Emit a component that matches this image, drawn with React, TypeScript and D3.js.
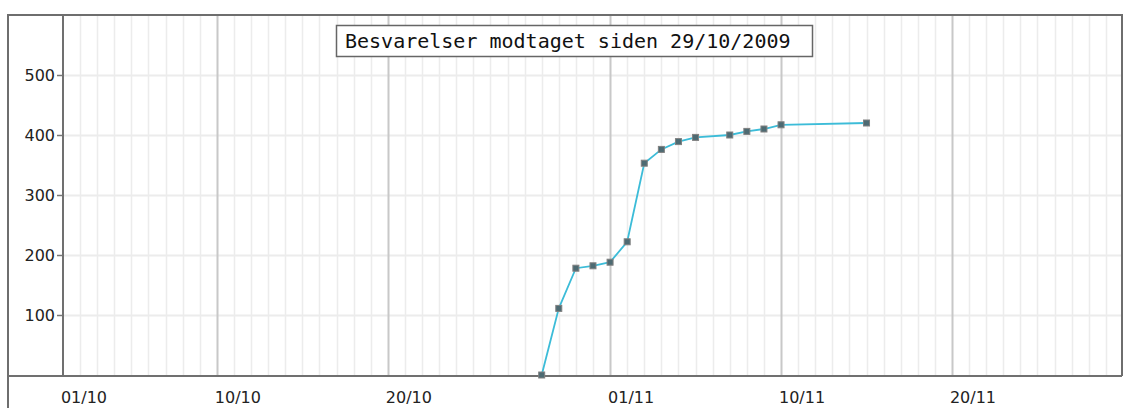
import React, { useEffect, useRef } from 'react';
import * as d3 from 'd3';

// x is measured in chart day-units counted from 01/10 (the axis start)
const DAYS = [28, 29, 30, 31, 32, 33, 34, 35, 36, 37, 39, 40, 41, 42, 47];
const RESPONSES = [0, 111, 178, 182, 188, 222, 353, 376, 389, 396, 400, 406, 410, 417, 420];

const X_TICKS = [0, 9, 19, 32, 42, 52];
const X_TICK_LABELS = ['01/10', '10/10', '20/10', '01/11', '10/11', '20/11'];
const Y_TICKS = [100, 200, 300, 400, 500];
const LEGEND_TEXT = 'Besvarelser modtaget siden 29/10/2009';

const WIDTH = 1125;
const HEIGHT = 408;

const App: React.FC = () => {
  const svgRef = useRef<SVGSVGElement>(null);

  useEffect(() => {
    if (!svgRef.current) return;
    const svg = d3.select(svgRef.current);
    svg.selectAll('*').remove();

    const frame = { left: 8, top: 15, right: 1122 };
    const plot = { left: 63, right: 1122, top: 15, bottom: 376 };

    const xScale = d3.scaleLinear().domain([0, 52]).range([plot.left, 952]);
    const yScale = d3.scaleLinear().domain([0, 600]).range([plot.bottom - 1, plot.top]);

    const xMax = xScale.invert(plot.right);

    // minor (daily) vertical grid
    svg.append('g')
      .selectAll('line')
      .data(d3.range(1, Math.floor(xMax) + 1).filter(d => !X_TICKS.includes(d)))
      .enter()
      .append('line')
      .attr('x1', d => Math.round(xScale(d)) + 0.5)
      .attr('x2', d => Math.round(xScale(d)) + 0.5)
      .attr('y1', plot.top)
      .attr('y2', plot.bottom)
      .attr('stroke', '#ececec')
      .attr('stroke-width', 1.5);

    // horizontal grid
    svg.append('g')
      .selectAll('line')
      .data(Y_TICKS)
      .enter()
      .append('line')
      .attr('x1', plot.left)
      .attr('x2', plot.right)
      .attr('y1', d => Math.round(yScale(d)) + 0.5)
      .attr('y2', d => Math.round(yScale(d)) + 0.5)
      .attr('stroke', '#ececec')
      .attr('stroke-width', 2);

    // major vertical grid
    svg.append('g')
      .selectAll('line')
      .data(X_TICKS.slice(1))
      .enter()
      .append('line')
      .attr('x1', d => Math.round(xScale(d)) + 0.5)
      .attr('x2', d => Math.round(xScale(d)) + 0.5)
      .attr('y1', plot.top)
      .attr('y2', plot.bottom)
      .attr('stroke', '#c8c8c8')
      .attr('stroke-width', 2);

    // outer frame
    svg.append('path')
      .attr('d', `M${frame.left},${HEIGHT + 5}V${frame.top}H${frame.right}V${plot.bottom}`)
      .attr('fill', 'none')
      .attr('stroke', '#6e6e6e')
      .attr('stroke-width', 2);

    // y axis
    svg.append('line')
      .attr('x1', plot.left).attr('x2', plot.left)
      .attr('y1', plot.top).attr('y2', plot.bottom)
      .attr('stroke', '#707070')
      .attr('stroke-width', 2);

    // x axis
    svg.append('line')
      .attr('x1', frame.left).attr('x2', frame.right)
      .attr('y1', plot.bottom).attr('y2', plot.bottom)
      .attr('stroke', '#707070')
      .attr('stroke-width', 2);

    // y ticks + labels
    const yt = svg.append('g').selectAll('g').data(Y_TICKS).enter().append('g');
    yt.append('line')
      .attr('x1', plot.left - 6).attr('x2', plot.left)
      .attr('y1', d => Math.round(yScale(d)) + 0.5)
      .attr('y2', d => Math.round(yScale(d)) + 0.5)
      .attr('stroke', '#777')
      .attr('stroke-width', 1.5);
    yt.append('text')
      .attr('x', plot.left - 8)
      .attr('y', d => yScale(d) + 6)
      .attr('text-anchor', 'end')
      .attr('font-family', 'DejaVu Sans, sans-serif')
      .attr('font-size', '16px')
      .attr('fill', '#222')
      .text(d => String(d));

    // x tick labels
    svg.append('g')
      .selectAll('text')
      .data(X_TICKS)
      .enter()
      .append('text')
      .attr('x', d => xScale(d) + 21)
      .attr('y', 403)
      .attr('text-anchor', 'middle')
      .attr('font-family', 'DejaVu Sans, sans-serif')
      .attr('font-size', '16px')
      .attr('fill', '#222')
      .text((d, i) => X_TICK_LABELS[i]);

    // series
    const points = DAYS.map((d, i) => ({ day: d, value: RESPONSES[i] }));
    const line = d3.line<{ day: number; value: number }>()
      .x(d => xScale(d.day))
      .y(d => yScale(d.value));

    svg.append('path')
      .datum(points)
      .attr('d', line)
      .attr('fill', 'none')
      .attr('stroke', '#3cbcd8')
      .attr('stroke-width', 1.8);

    svg.append('g')
      .selectAll('rect')
      .data(points)
      .enter()
      .append('rect')
      .attr('x', d => xScale(d.day) - 3)
      .attr('y', d => yScale(d.value) - 3)
      .attr('width', 6)
      .attr('height', 6)
      .attr('fill', '#4d6a72')
      .attr('stroke', '#808080')
      .attr('stroke-width', 1);

    // legend
    svg.append('rect')
      .attr('x', 336.5)
      .attr('y', 25.5)
      .attr('width', 476)
      .attr('height', 31)
      .attr('fill', '#fff')
      .attr('stroke', '#666')
      .attr('stroke-width', 1.5);
    svg.append('text')
      .attr('x', 345)
      .attr('y', 48)
      .attr('font-family', 'DejaVu Sans Mono, monospace')
      .attr('font-size', '20px')
      .attr('fill', '#111')
      .text(LEGEND_TEXT);
  }, []);

  return (
    <svg
      ref={svgRef}
      width={WIDTH}
      height={HEIGHT}
      style={{ position: 'absolute', left: 0, top: 0, background: '#fff' }}
    />
  );
};

export default App;
